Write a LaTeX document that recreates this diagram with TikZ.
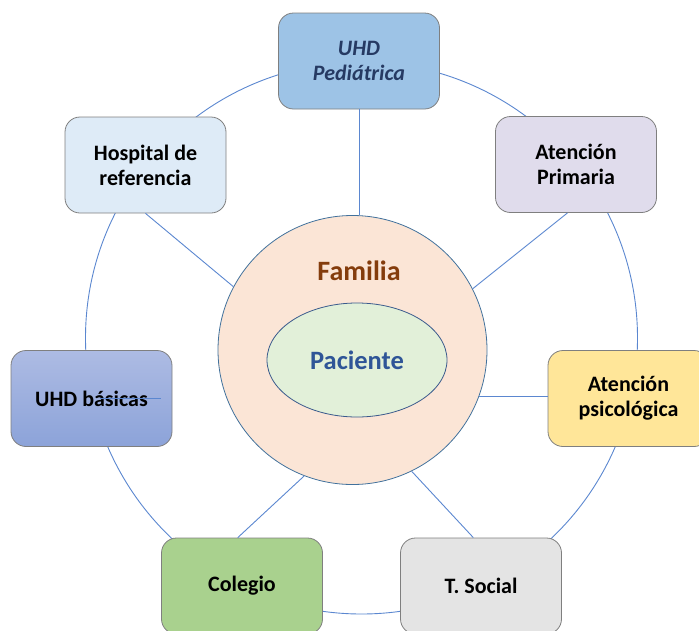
\documentclass[tikz,border=0pt]{standalone}
\usepackage{fontspec}
\setmainfont{Carlito}
\usetikzlibrary{shapes.geometric,calc}
\definecolor{linkblue}{HTML}{5B87D0}
\definecolor{boxgray}{HTML}{7F7F7F}
\definecolor{pedfill}{HTML}{9DC3E6}
\definecolor{hospfill}{HTML}{DEEBF7}
\definecolor{apfill}{HTML}{E0DCEC}
\definecolor{uhdtop}{HTML}{ADBBE3}
\definecolor{uhdbot}{HTML}{8CA3D9}
\definecolor{psicfill}{HTML}{FFE699}
\definecolor{colfill}{HTML}{A9D18E}
\definecolor{tsfill}{HTML}{E4E4E4}
\definecolor{famfill}{HTML}{FBE5D6}
\definecolor{famedge}{HTML}{41719C}
\definecolor{pacfill}{HTML}{E2F0D9}
\definecolor{pacedge}{HTML}{3A5A8C}
\definecolor{famtext}{HTML}{843C0C}
\definecolor{pactext}{HTML}{2F5597}
\definecolor{pedtext}{HTML}{263A63}
\begin{document}
\begin{tikzpicture}[x=1pt,y=-1pt,
  box/.style={draw=boxgray, line width=0.8pt, rounded corners=15pt,
    minimum width=161pt, minimum height=96pt, align=center,
    font=\fontsize{22}{25}\selectfont\bfseries, text=black, inner sep=0pt},
  link/.style={draw=linkblue, line width=0.9pt}]
\useasboundingbox (0,0) rectangle (699,630);
\clip (0,0) rectangle (699,630);
% outer ring
\node[circle, link, minimum size=552pt, inner sep=0pt] (ring) at (361.5,338) {};
% boxes
\node[box, fill=pedfill, text=pedtext, font=\fontsize{22}{25}\selectfont\bfseries\itshape] (ped) at (359,61) {UHD\\Pediátrica};
\node[box, fill=hospfill] (hosp) at (145.5,165) {Hospital de\\referencia};
\node[box, fill=apfill] (ap) at (576,164.5) {Atención\\Primaria};
\node[box, top color=uhdtop, bottom color=uhdbot] (uhdb) at (91.5,398.5) {UHD básicas};
\node[box, fill=psicfill] (psic) at (628.5,398.5) {Atención\\psicológica};
\node[box, fill=colfill] (col) at (242,586) {Colegio};
\node[box, fill=tsfill] (ts) at (481,586) {T. Social};
% family circle and patient ellipse
\node[circle, draw=famedge, line width=0.8pt, fill=famfill, minimum size=269pt, inner sep=0pt] (fam) at (352.5,350) {};
\node[font=\fontsize{28}{30}\selectfont\bfseries, text=famtext] (famlabel) at (359,271) {Familia};
\node[ellipse, draw=pacedge, line width=0.8pt, fill=pacfill, minimum width=180pt, minimum height=114pt, inner sep=0pt,
  font=\fontsize{26.5}{30}\selectfont\bfseries, text=pactext] (pac) at (357,360) {Paciente};
% connectors
\draw[link] (ped.south) -- (fam.north -| ped.south);
\draw[link] (hosp.south) -- (fam.152);
\draw[link] (ap.-100) -- (fam.27);
\draw[link] (fam.-20) -- (fam.-20 -| psic.west);
\draw[link] (col.95) -- (fam.-111);
\draw[link] (ts.99) -- (fam.-64);
\coordinate (ua) at (100,398);
\coordinate (ub) at (161,398);
\draw[link] (ua) -- (ub);
\end{tikzpicture}
\end{document}
